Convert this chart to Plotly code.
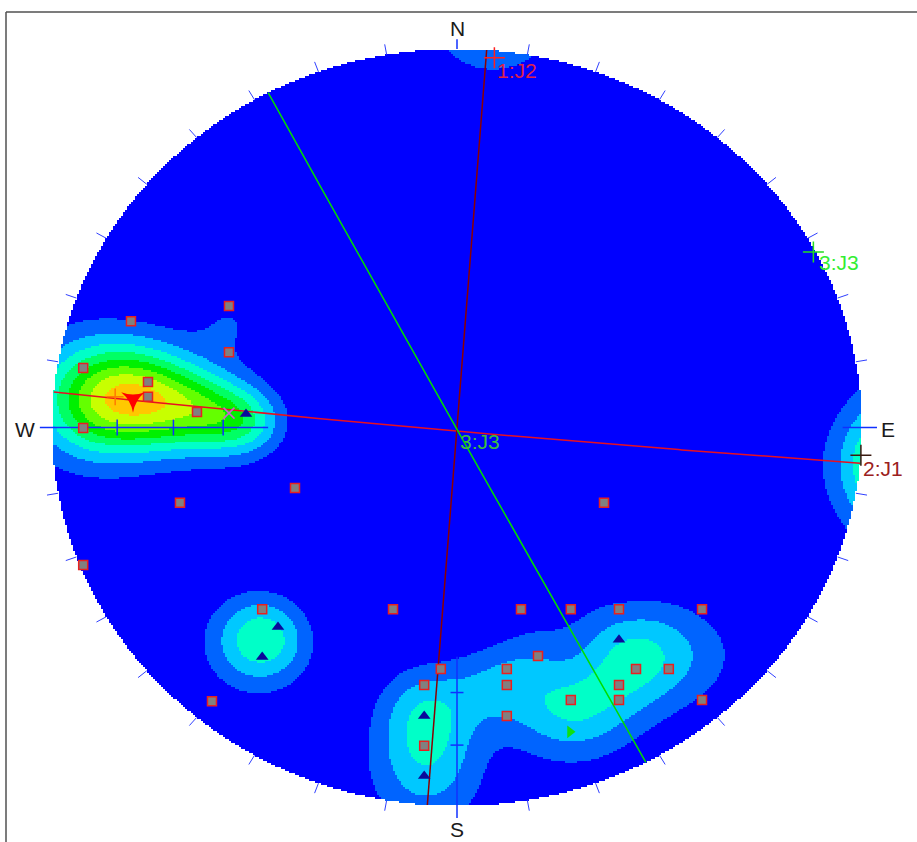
import numpy as np
import plotly.graph_objects as go

# ---------------- data (equal-angle stereonet, lower hemisphere; x east, y north, unit radius) ----
# poles plotted as grey squares
sq_x = [-0.563, -0.805, -0.563, -0.923, -0.763, -0.763, -0.642, -0.923, -0.684, -0.400,
        0.363, -0.923, -0.481, -0.158, 0.158, 0.281, 0.400, 0.605, 0.200, -0.040,
        0.123, 0.442, 0.523, -0.081, 0.123, 0.400, -0.605, 0.281, 0.400, 0.605,
        0.123, -0.081]
sq_y = [0.321, 0.281, 0.199, 0.157, 0.120, 0.081, 0.041, -0.001, -0.199, -0.160,
        -0.199, -0.363, -0.480, -0.480, -0.480, -0.480, -0.480, -0.480, -0.604, -0.638,
        -0.638, -0.638, -0.638, -0.680, -0.680, -0.680, -0.723, -0.720, -0.720, -0.720,
        -0.762, -0.841]
# poles plotted as blue triangles
tri_x = [-0.521, -0.442, -0.481, -0.081, -0.081, 0.400]
tri_y = [0.036, -0.527, -0.606, -0.762, -0.921, -0.561]
# other symbols
green_tri_x, green_tri_y = [0.279], [-0.804]
peak_x, peak_y = [-0.800], [0.075]
plus_x, plus_y = [-0.844], [0.081]
xmark_x, xmark_y = [-0.563], [0.038]

# pole concentrations used for the density contours (x, y, weight)
dens_x = [-0.943, -0.881, -0.800, -0.721, -0.635, -0.543, -0.491,       # W ridge
          -0.904, -0.805, -0.731,                                       # W upper
          -0.904, -0.805, -0.706, -0.607, -0.521,                       # W lower
          -0.563,                                                       # small NW blob
          -0.484,                                                       # SW
          -0.079, -0.079, -0.074,                                       # S
          0.069, 0.156, 0.205,                                          # bridge
          0.242, 0.328, 0.390, 0.427, 0.489, 0.600, 0.353, 0.504]       # SE
dens_y = [0.073, 0.078, 0.075, 0.073, 0.059, 0.030, 0.019,
          0.145, 0.145, 0.145,
          -0.003, -0.003, -0.003, -0.003, -0.003,
          0.271,
          -0.561,
          -0.728, -0.820, -0.936,
          -0.688, -0.667, -0.585,
          -0.760, -0.742, -0.680, -0.601, -0.641, -0.601, -0.521, -0.521]
dens_w = [0.62, 1.15, 1.15, 1.2, 1.4, 1.2, 0.4,
          0.45, 0.5, 0.35,
          0.45, 0.45, 0.45, 0.4, 0.4,
          0.5,
          1.95,
          0.9, 0.85, 0.8,
          0.7, 0.5, 0.4,
          0.75, 0.75, 0.4, 0.8, 0.45, 0.45, 0.35, 0.35]
sigma_deg = 6.0
contour_levels = [0.5, 1.0, 1.5, 2.0, 2.5, 3.0, 3.5, 4.0, 4.5]
contour_colors = ['#0000FF', '#0064FF', '#00C8FF', '#00FFC8', '#00FF64',
                  '#00F000', '#64FF00', '#C8FF00', '#FFC800', '#FF6400']

# joint set mean poles (trend, plunge in degrees)
set_names = ['1:J2', '2:J1', '3:J3']
set_trend = [5.4, 94.2, 62.2]
set_plunge = [1.1, 0.0, 0.3]
set_colors = ['#E81020', '#8B0000', '#00DD00']
label_colors = ['#E0204A', '#9B2020', '#33EE33']
pole_cross_colors = ['#FF2020', '#3A1A10', '#22DD22']

rim_tick_az = list(range(10, 360, 10))
axis_tick_plunge_w = [10, 20, 30]
axis_tick_plunge_s = [10, 20]
compass = ['N', 'E', 'S', 'W']

# ---------------- helpers ----------------
def unproject(x, y):
    r2 = x * x + y * y
    return 2 * x / (1 + r2), 2 * y / (1 + r2), (1 - r2) / (1 + r2)

def project(e, n, d):
    return e / (1 + d), n / (1 + d)

def pole_vec(t, p):
    t, p = np.radians(t), np.radians(p)
    return np.cos(p) * np.sin(t), np.cos(p) * np.cos(t), np.sin(p)

def r_of_plunge(p):
    return np.tan(np.radians(45 - p / 2.0))

# ---------------- density grid ----------------
nx, ny = 406, 380
gx = np.linspace(-1, 1, nx)
gy = np.linspace(-1, 1, ny)
X, Y = np.meshgrid(gx, gy)
R = np.hypot(X, Y)
E, N, D = unproject(X, Y)
kappa = 1.0 / np.radians(sigma_deg) ** 2
dens = np.zeros_like(X)
for sx, sy, w in zip(dens_x, dens_y, dens_w):
    se, sn, sd = unproject(sx, sy)
    dot = np.abs(E * se + N * sn + D * sd)
    dens += w * np.exp(kappa * (dot - 1))
top = contour_levels[-1] + (contour_levels[1] - contour_levels[0])
dens = np.clip(dens, 0, top - 1e-6)
dens = np.where(R <= 1.0, dens, np.nan).astype(np.float32)

edges = [0.0] + contour_levels + [top]
cs = []
for i, c in enumerate(contour_colors):
    cs.append([edges[i] / top, c])
    cs.append([edges[i + 1] / top, c])

fig = go.Figure()
fig.add_trace(go.Heatmap(x=gx, y=gy, z=dens, zmin=0, zmax=top, colorscale=cs,
                         zsmooth=False, showscale=False, hoverinfo='skip'))

# ---------------- great circles ----------------
for t, p, col in zip(set_trend, set_plunge, set_colors):
    nvec = np.array(pole_vec(t, p))
    tr = np.radians(t)
    u = np.array([np.cos(tr), -np.sin(tr), 0.0])
    v = np.cross(nvec, u)
    if v[2] < 0:
        v = -v
    a = np.linspace(0, np.pi, 240)
    pts = np.outer(np.cos(a), u) + np.outer(np.sin(a), v)
    gxs, gys = project(pts[:, 0], pts[:, 1], np.maximum(pts[:, 2], 0))
    fig.add_trace(go.Scatter(x=gxs, y=gys, mode='lines', line=dict(color=col, width=1.5),
                             hoverinfo='skip'))

# ---------------- rim ticks and axes ----------------
tx, ty = [], []
for az in rim_tick_az:
    if az % 90 == 0:
        continue
    a = np.radians(az)
    tx += [np.sin(a), 1.028 * np.sin(a), None]
    ty += [np.cos(a), 1.028 * np.cos(a), None]
fig.add_trace(go.Scatter(x=tx, y=ty, mode='lines', line=dict(color='#3040FF', width=1),
                         hoverinfo='skip'))

ax_col = '#1030FF'
ax_x = [-1.03, -r_of_plunge(40), None, r_of_plunge(2.8), 1.037, None, 0, 0, None, 0, 0]
ax_y = [0, 0, None, 0, 0, None, -r_of_plunge(27.6), -1.032, None, 1.0, 1.026]
for p in axis_tick_plunge_w:
    r = r_of_plunge(p)
    ax_x += [None, -r, -r]
    ax_y += [None, -0.021, 0.021]
for p in axis_tick_plunge_s:
    r = r_of_plunge(p)
    ax_x += [None, -0.016, 0.016]
    ax_y += [None, -r, -r]
fig.add_trace(go.Scatter(x=ax_x, y=ax_y, mode='lines', line=dict(color=ax_col, width=1.5),
                         hoverinfo='skip'))

# ---------------- symbols ----------------
fig.add_trace(go.Scatter(x=sq_x, y=sq_y, mode='markers', hoverinfo='skip',
                         marker=dict(symbol='square', size=9, color='#808080',
                                     line=dict(color='#E82020', width=1.5))))
fig.add_trace(go.Scatter(x=tri_x, y=tri_y, mode='markers', hoverinfo='skip',
                         marker=dict(symbol='triangle-up', size=11, color='#0A0A9A',
                                     line=dict(width=0))))
fig.add_trace(go.Scatter(x=green_tri_x, y=green_tri_y, mode='markers', hoverinfo='skip',
                         marker=dict(symbol='triangle-right', size=11, color='#10E010',
                                     line=dict(width=0))))
fig.add_trace(go.Scatter(x=peak_x, y=peak_y, mode='markers', hoverinfo='skip',
                         marker=dict(symbol='star-triangle-down', size=17, color='#FF0000',
                                     line=dict(width=0))))
fig.add_trace(go.Scatter(x=plus_x, y=plus_y, mode='markers', hoverinfo='skip',
                         marker=dict(symbol='cross-thin-open', size=12, color='#FF7A00',
                                     line=dict(color='#FF7A00', width=1.5))))
fig.add_trace(go.Scatter(x=xmark_x, y=xmark_y, mode='markers', hoverinfo='skip',
                         marker=dict(symbol='x-thin-open', size=11, color='#D060D0',
                                     line=dict(color='#D060D0', width=1.5))))

# set poles and labels
pxs, pys = [], []
for t, p in zip(set_trend, set_plunge):
    e, n, d = pole_vec(t, p)
    x, y = project(e, n, d)
    pxs.append(x)
    pys.append(y)
for x, y, c in zip(pxs, pys, pole_cross_colors):
    fig.add_trace(go.Scatter(x=[x], y=[y], mode='markers', hoverinfo='skip',
                             marker=dict(symbol='cross-thin-open', size=15, color=c,
                                         line=dict(color=c, width=1.5))))

font_fam = 'Arial, Liberation Sans, sans-serif'
ann = []
shifts = [(1, -13), (0, -13), (4, -11)]
for name, x, y, c, (xs, ys) in zip(set_names, pxs, pys, label_colors, shifts):
    ann.append(dict(x=x, y=y, text=name, showarrow=False, xanchor='left', yanchor='middle',
                    xshift=xs, yshift=ys, font=dict(family=font_fam, size=21, color=c)))
# label at the primitive centre
ann.append(dict(x=0, y=0, text=set_names[2], showarrow=False, xanchor='left', yanchor='middle',
                xshift=1, yshift=-14, font=dict(family=font_fam, size=21, color='#3CC03C')))

comp_pos = {'N': (0, 1.055), 'E': (1.064, -0.004), 'S': (0, -1.063), 'W': (-1.067, -0.004)}
for k in compass:
    x, y = comp_pos[k]
    ann.append(dict(x=x, y=y, text=k, showarrow=False, xanchor='center', yanchor='middle',
                    font=dict(family=font_fam, size=21, color='#1A1A1A')))

shapes = [
    dict(type='line', xref='paper', yref='paper', x0=6 / 917, x1=6 / 917, y0=0, y1=1 - 12 / 842,
         line=dict(color='#505050', width=1.5)),
    dict(type='line', xref='paper', yref='paper', x0=6 / 917, x1=1, y0=1 - 12 / 842, y1=1 - 12 / 842,
         line=dict(color='#505050', width=1.5)),
]

fig.update_layout(
    width=917, height=842, margin=dict(l=0, r=0, t=0, b=0),
    paper_bgcolor='white', plot_bgcolor='white', showlegend=False,
    xaxis=dict(range=[-1.1284, 1.1358], visible=False, fixedrange=True),
    yaxis=dict(range=[-1.0951, 1.1295], visible=False, fixedrange=True),
    annotations=ann, shapes=shapes,
)
fig.write_html('out.html', config={'displayModeBar': False},
               post_script="document.body.style.margin='0px';document.body.style.overflow='hidden';")
